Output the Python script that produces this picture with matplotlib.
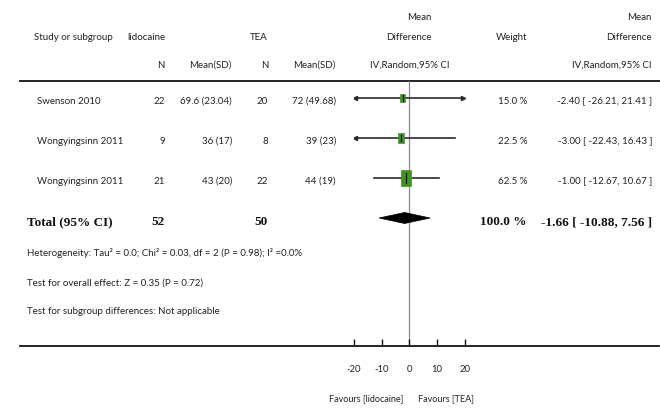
import numpy as np
import matplotlib
matplotlib.use('Agg')
import matplotlib.pyplot as plt
from matplotlib.patches import Rectangle, Polygon

plt.rcParams['font.family'] = ['Lato', 'DejaVu Sans']

# Study data
studies = ['Swenson 2010', 'Wongyingsinn 2011', 'Wongyingsinn 2011']
lido_n = [22, 9, 21]
lido_mean_sd = ['69.6 (23.04)', '36 (17)', '43 (20)']
tea_n = [20, 8, 22]
tea_mean_sd = ['72 (49.68)', '39 (23)', '44 (19)']
weights = [15.0, 22.5, 62.5]
md = [-2.40, -3.00, -1.00]
ci_lo = [-26.21, -22.43, -12.67]
ci_hi = [21.41, 16.43, 10.67]

total_lido_n = 52
total_tea_n = 50
total_weight = 100.0
total_md = -1.66
total_lo = -10.88
total_hi = 7.56

heterogeneity = 'Heterogeneity: Tau² = 0.0; Chi² = 0.03, df = 2 (P = 0.98); I² =0.0%'
overall_effect = 'Test for overall effect: Z = 0.35 (P = 0.72)'
subgroup_test = 'Test for subgroup differences: Not applicable'

xticks = [-20, -10, 0, 10, 20]
xlim = (-20, 20)

W, H = 660, 408
fig = plt.figure(figsize=(W / 100, H / 100), dpi=100)

# full-figure axes in pixel units for the table text
tab = fig.add_axes([0, 0, 1, 1])
tab.set_xlim(0, W)
tab.set_ylim(H, 0)
tab.axis('off')

txt = '#222228'
fs = 7.0
row_y = [98, 138, 178]
total_y = 218
line_top, line_bot = 81, 345.5

# forest plot axes sharing the pixel rows on y
x0, x1 = 353.8, 464.6
ax = fig.add_axes([x0 / W, (H - line_bot) / H, (x1 - x0) / W, (line_bot - line_top) / H])
ax.set_xlim(*xlim)
ax.set_ylim(line_bot, line_top)
ax.set_facecolor('none')
for s in ax.spines.values():
    s.set_visible(False)
ax.set_yticks([])
ax.set_xticks(xticks)
ax.set_xticklabels([str(t) for t in xticks], fontsize=6.8, color=txt)
ax.tick_params(axis='x', direction='in', length=5, width=1, pad=14, colors='#111111')
ax.tick_params(axis='x', labelcolor=txt)
ax.axvline(0, color='#8c8c8c', lw=0.9, zorder=1)

px_per_unit = (x1 - x0) / (xlim[1] - xlim[0])
edge = 19.6
for y, m, lo, hi, w in zip(row_y, md, ci_lo, ci_hi, weights):
    a, b = max(lo, -edge), min(hi, edge)
    ax.plot([a, b], [y, y], color='#2b2b2b', lw=1.2, zorder=2)
    if lo < -edge:
        ax.plot(a, y, marker='<', ms=3, color='#2b2b2b', zorder=2)
    if hi > edge:
        ax.plot(b, y, marker='>', ms=3, color='#2b2b2b', zorder=2)
    h = 2.0 * np.sqrt(w) + 1.0
    wd = 0.6 * h / px_per_unit
    ax.add_patch(Rectangle((m - wd / 2, y - h / 2), wd, h, fc='#3f9422', ec='#3f9422',
                           lw=0.5, zorder=3))
    ax.plot([m, m], [y - h * 0.3, y + h * 0.3], color='#111111', lw=0.9, zorder=4)

ax.add_patch(Polygon([(total_lo, total_y), (total_md, total_y - 5.5), (total_hi, total_y),
                      (total_md, total_y + 5.5)], closed=True, fc='black', ec='black',
                     lw=0.5, zorder=3))

# horizontal rules
tab.plot([20, 660], [line_top, line_top], color='#111111', lw=1.3)
tab.plot([20, 659], [line_bot, line_bot], color='#111111', lw=1.3)

# header
tab.text(34, 37, 'Study or subgroup', fontsize=fs, color=txt, va='center')
tab.text(165, 37, 'lidocaine', fontsize=fs, color=txt, va='center', ha='right')
tab.text(268, 37, 'TEA', fontsize=fs, color=txt, va='center', ha='right')
tab.text(165, 65, 'N', fontsize=fs, color=txt, va='center', ha='right')
tab.text(232, 65, 'Mean(SD)', fontsize=fs, color=txt, va='center', ha='right')
tab.text(268, 65, 'N', fontsize=fs, color=txt, va='center', ha='right')
tab.text(336, 65, 'Mean(SD)', fontsize=fs, color=txt, va='center', ha='right')
tab.text(432, 18, 'Mean', fontsize=fs, color=txt, va='center', ha='right')
tab.text(432, 37, 'Difference', fontsize=fs, color=txt, va='center', ha='right')
tab.text(450, 65, 'IV,Random,95% CI', fontsize=fs, color=txt, va='center', ha='right')
tab.text(512, 37, 'Weight', fontsize=fs, color=txt, va='center', ha='center')
tab.text(652, 18, 'Mean', fontsize=fs, color=txt, va='center', ha='right')
tab.text(652, 37, 'Difference', fontsize=fs, color=txt, va='center', ha='right')
tab.text(652, 65, 'IV,Random,95% CI', fontsize=fs, color=txt, va='center', ha='right')

# study rows
for i, y in enumerate(row_y):
    ty = y + 3
    tab.text(37, ty, studies[i], fontsize=fs, color=txt, va='center')
    tab.text(165, ty, str(lido_n[i]), fontsize=fs, color=txt, va='center', ha='right')
    tab.text(232, ty, lido_mean_sd[i], fontsize=fs, color=txt, va='center', ha='right')
    tab.text(268, ty, str(tea_n[i]), fontsize=fs, color=txt, va='center', ha='right')
    tab.text(336, ty, tea_mean_sd[i], fontsize=fs, color=txt, va='center', ha='right')
    tab.text(527, ty, f'{weights[i]:.1f} %', fontsize=fs, color=txt, va='center', ha='right')
    tab.text(652, ty, f'{md[i]:.2f} [ {ci_lo[i]:.2f}, {ci_hi[i]:.2f} ]', fontsize=fs,
             color=txt, va='center', ha='right')

# total row
bold = dict(family='Liberation Serif', fontweight='bold', fontsize=9.5, color='#111111',
            va='center')
ty = total_y + 4
tab.text(27, ty, 'Total (95% CI)', **bold)
tab.text(165, ty, str(total_lido_n), ha='right', **bold)
tab.text(268, ty, str(total_tea_n), ha='right', **bold)
tab.text(527, ty, f'{total_weight:.1f} %', ha='right', **bold)
tab.text(652, ty, f'{total_md:.2f} [ {total_lo:.2f}, {total_hi:.2f} ]', ha='right', **bold)

# footnotes
tab.text(27, 253, heterogeneity, fontsize=fs, color=txt, va='center')
tab.text(27, 283, overall_effect, fontsize=fs, color=txt, va='center')
tab.text(27, 311, subgroup_test, fontsize=fs, color=txt, va='center')

tab.text(366, 399, 'Favours [lidocaine]', fontsize=6.5, color=txt, va='center', ha='center')
tab.text(446, 399, 'Favours [TEA]', fontsize=6.5, color=txt, va='center', ha='center')

fig.savefig('out.png', dpi=100)
